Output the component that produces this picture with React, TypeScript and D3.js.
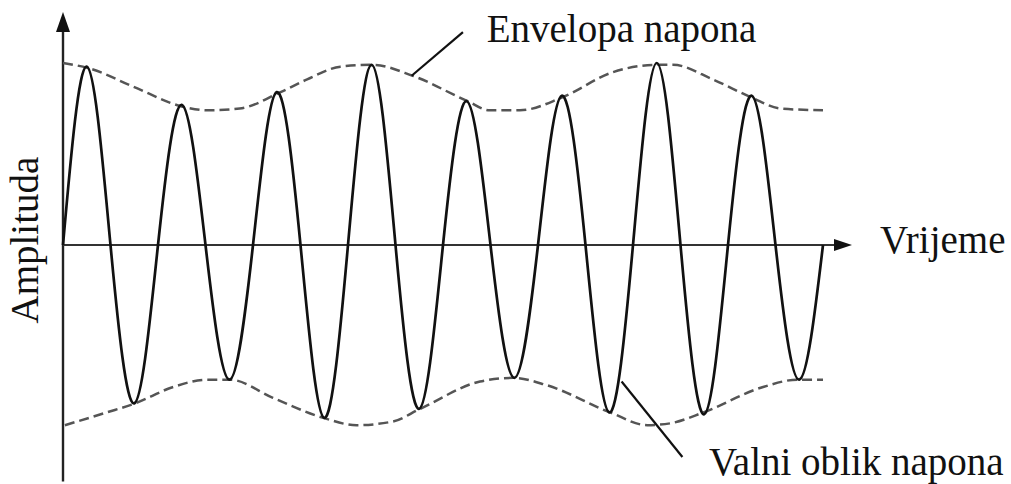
import React from 'react';
import * as d3 from 'd3';

// picture size
const W = 1011;
const H = 484;

// carrier: 8 cycles, extreme of each half-cycle (relative amplitude)
const peakAmps = [0.98, 0.77, 0.84, 0.99, 0.79, 0.82, 1.0, 0.82];
const troughAmps = [-0.87, -0.74, -0.95, -0.9, -0.73, -0.92, -0.93, -0.74];

// upper envelope (time in carrier cycles, amplitude)
const upperT = [0, 0.28, 0.74, 1.26, 1.52, 1.86, 2.29, 2.57, 2.92, 3.26, 3.68, 4.26, 4.49, 4.81, 5.25, 5.79, 6.25, 6.42, 6.84, 7.25, 7.55, 8.0];
const upperA = [1.0, 0.97, 0.87, 0.76, 0.74, 0.75, 0.84, 0.91, 0.98, 0.99, 0.93, 0.79, 0.74, 0.74, 0.81, 0.95, 0.99, 0.99, 0.91, 0.81, 0.75, 0.74];

// lower envelope
const lowerT = [0.02, 0.46, 0.76, 1.16, 1.52, 1.76, 2.21, 2.74, 3.09, 3.47, 3.76, 4.39, 4.74, 5.09, 5.76, 6.15, 6.39, 6.74, 7.37, 7.73, 8.0];
const lowerA = [-0.99, -0.92, -0.87, -0.78, -0.74, -0.74, -0.84, -0.95, -0.99, -0.97, -0.9, -0.75, -0.73, -0.77, -0.92, -0.99, -0.98, -0.92, -0.78, -0.74, -0.74];

// texts
const xTitle = 'Vrijeme';
const yTitle = 'Amplituda';
const envLabel = 'Envelopa napona';
const waveLabel = 'Valni oblik napona';

const x = d3.scaleLinear().domain([0, 8]).range([63, 823]);
const y = d3.scaleLinear().domain([-1, 1]).range([427, 63]);

const xAxisEnd = 8.305;
const yAxisTop = 1.28;
const yAxisBottom = -1.3;

const font = '"Liberation Serif", "Times New Roman", serif';

const App = () => {
	const wavePts: [number, number][] = [];
	peakAmps.forEach((p, k) => {
		wavePts.push([k, 0], [k + 0.25, p], [k + 0.5, 0], [k + 0.75, troughAmps[k]]);
	});
	wavePts.push([peakAmps.length, 0]);

	const waveLine = d3
		.line<[number, number]>()
		.x((d) => x(d[0]))
		.y((d) => y(d[1]))
		.curve(d3.curveNatural);

	const envLine = d3
		.line<[number, number]>()
		.x((d) => x(d[0]))
		.y((d) => y(d[1]))
		.curve(d3.curveMonotoneX);

	const upper = upperT.map((t, i) => [t, upperA[i]] as [number, number]);
	const lower = lowerT.map((t, i) => [t, lowerA[i]] as [number, number]);

	const x0 = x(0);
	const y0 = y(0);
	const xEnd = x(xAxisEnd);
	const yTop = y(yAxisTop);

	return (
		<svg width={W} height={H} style={{ position: 'absolute', left: 0, top: 0, background: '#fff' }}>
			{/* axes */}
			<line x1={x0} y1={y(yAxisBottom)} x2={x0} y2={yTop + 14} stroke="#222" strokeWidth={2.4} />
			<polygon points={`${x0},${yTop} ${x0 - 7},${yTop + 20} ${x0 + 7},${yTop + 20}`} fill="#111" />
			<line x1={x0} y1={y0} x2={xEnd - 12} y2={y0} stroke="#333" strokeWidth={2} />
			<polygon points={`${xEnd},${y0} ${xEnd - 18},${y0 - 6} ${xEnd - 18},${y0 + 6}`} fill="#111" />

			{/* envelope */}
			<path d={envLine(upper) || ''} fill="none" stroke="#555" strokeWidth={2.5} strokeDasharray="10 5" />
			<path d={envLine(lower) || ''} fill="none" stroke="#555" strokeWidth={2.5} strokeDasharray="10 5" />

			{/* waveform */}
			<path d={waveLine(wavePts) || ''} fill="none" stroke="#111" strokeWidth={2.7} />

			{/* annotations */}
			<line x1={x(3.67)} y1={y(0.93)} x2={x(4.21)} y2={y(1.17)} stroke="#111" strokeWidth={2.2} />
			<line x1={x(5.88)} y1={y(-0.75)} x2={x(6.52)} y2={y(-1.165)} stroke="#111" strokeWidth={2.2} />

			<g fontFamily={font} fontSize={39} fill="#111">
				<text x={x(4.46)} y={y(1.115)}>{envLabel}</text>
				<text x={x(8.6)} y={y(-0.044)}>{xTitle}</text>
				<text x={x(6.8)} y={y(-1.264)}>{waveLabel}</text>
				<text
					transform={`translate(${x(-0.263)},${y(0.027)}) rotate(-90)`}
					textAnchor="middle"
				>
					{yTitle}
				</text>
			</g>
		</svg>
	);
};

export default App;
